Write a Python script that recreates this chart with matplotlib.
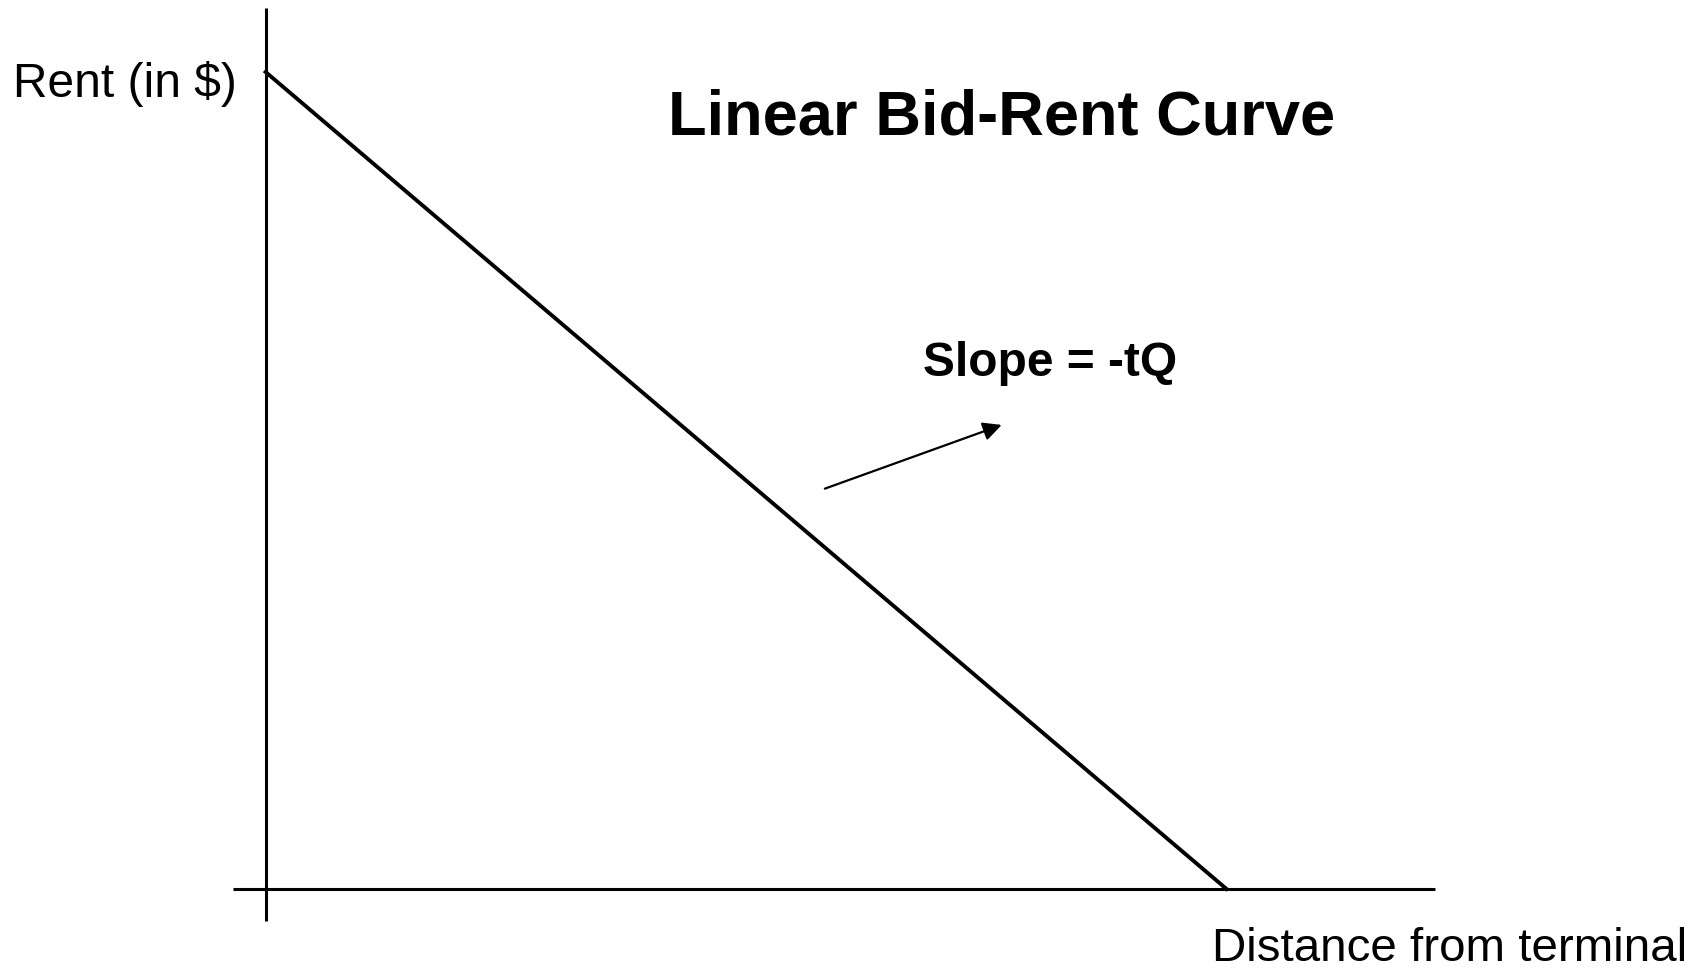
import matplotlib
matplotlib.use("Agg")
import matplotlib.pyplot as plt

plt.rcParams['font.family'] = ['Liberation Sans', 'DejaVu Sans']

# bid-rent line: rent falls linearly to zero with distance
distance = [0, 10]
rent = [10, 0]

title = "Linear Bid-Rent Curve"
slope_label = "Slope = -tQ"
y_label = "Rent (in $)"
x_label = "Distance from terminal"

W, H = 1707, 972
fig = plt.figure(figsize=(W / 100, H / 100), dpi=100)
ax = fig.add_axes([0, 0, 1, 1])
ax.set_xlim(-2.764, 15.0)
ax.set_ylim(-1.016, 10.881)
ax.axis('off')

# axes drawn as plain lines crossing at origin
ax.plot([-0.34, 12.17], [0, 0], color='black', lw=2.2, solid_capstyle='butt')
ax.plot([0, 0], [-0.39, 10.78], color='black', lw=2.2, solid_capstyle='butt')

# the curve itself
ax.plot(distance, rent, color='black', lw=2.8)

# pointer arrow toward the slope label
ax.annotate('', xy=(7.66, 5.68), xytext=(5.82, 4.90),
            arrowprops=dict(arrowstyle='-|>', color='black', lw=1.6,
                            mutation_scale=28, shrinkA=0, shrinkB=0))

fig.text(1002 / W, 1 - 118 / H, title, ha='center', va='center',
         fontsize=45.5, fontweight='bold')
fig.text(1050 / W, 1 - 364 / H, slope_label, ha='center', va='center',
         fontsize=34.5, fontweight='bold')
fig.text(13 / W, 1 - 84 / H, y_label, ha='left', va='center', fontsize=34.5)
# bottom label sits right at the lower edge, keep it just inside
fig.text(1212 / W, 1 / H, x_label, ha='left', va='bottom', fontsize=34.2)

fig.savefig('out.png', dpi=100)
